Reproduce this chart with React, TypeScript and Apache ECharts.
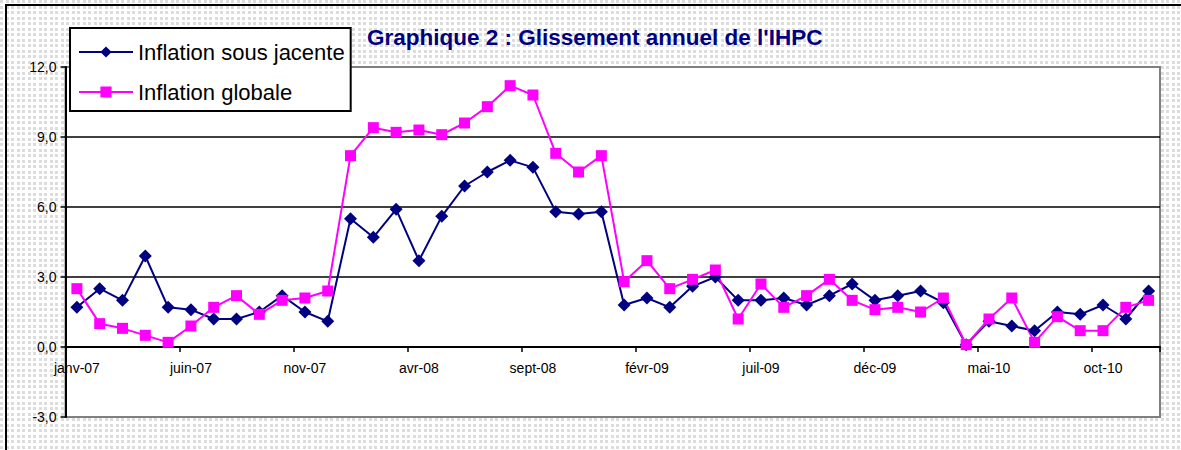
import React, { useEffect, useRef } from "react";
import * as echarts from "echarts";

const categories = [
  "janv-07", "févr-07", "mars-07", "avr-07", "mai-07", "juin-07", "juil-07", "août-07", "sept-07", "oct-07", "nov-07", "déc-07",
  "janv-08", "févr-08", "mars-08", "avr-08", "mai-08", "juin-08", "juil-08", "août-08", "sept-08", "oct-08", "nov-08", "déc-08",
  "janv-09", "févr-09", "mars-09", "avr-09", "mai-09", "juin-09", "juil-09", "août-09", "sept-09", "oct-09", "nov-09", "déc-09",
  "janv-10", "févr-10", "mars-10", "avr-10", "mai-10", "juin-10", "juil-10", "août-10", "sept-10", "oct-10", "nov-10", "déc-10",
];

const inflationSousJacente = [
  1.7, 2.5, 2.0, 3.9, 1.7, 1.6, 1.2, 1.2, 1.5, 2.2, 1.5, 1.1,
  5.5, 4.7, 5.9, 3.7, 5.6, 6.9, 7.5, 8.0, 7.7, 5.8, 5.7, 5.8,
  1.8, 2.1, 1.7, 2.6, 3.0, 2.0, 2.0, 2.1, 1.8, 2.2, 2.7, 2.0,
  2.2, 2.4, 1.9, 0.1, 1.1, 0.9, 0.7, 1.5, 1.4, 1.8, 1.2, 2.4,
];

const inflationGlobale = [
  2.5, 1.0, 0.8, 0.5, 0.2, 0.9, 1.7, 2.2, 1.4, 2.0, 2.1, 2.4,
  8.2, 9.4, 9.2, 9.3, 9.1, 9.6, 10.3, 11.2, 10.8, 8.3, 7.5, 8.2,
  2.8, 3.7, 2.5, 2.9, 3.3, 1.2, 2.7, 1.7, 2.2, 2.9, 2.0, 1.6,
  1.7, 1.5, 2.1, 0.1, 1.2, 2.1, 0.2, 1.3, 0.7, 0.7, 1.7, 2.0,
];

const seriesNames = ["Inflation sous jacente", "Inflation globale"];
const titleText = "Graphique 2 : Glissement annuel de l'IHPC";

const FONT = "'Liberation Sans', Arial, sans-serif";

const patternSvg =
  "url(\"data:image/svg+xml;utf8,<svg xmlns='http://www.w3.org/2000/svg' width='11' height='11'><rect x='0' y='0' width='3' height='3' fill='%23dcdcdc'/><rect x='6' y='0' width='3' height='3' fill='%23dcdcdc'/><rect x='0' y='6' width='3' height='3' fill='%23dcdcdc'/><rect x='6' y='6' width='3' height='3' fill='%23dcdcdc'/></svg>\")";

export default function App() {
  const ref = useRef<HTMLDivElement>(null);

  useEffect(() => {
    if (!ref.current) return;
    const chart = echarts.init(ref.current, undefined, { renderer: "svg" });
    chart.setOption({
      animation: false,
      backgroundColor: "transparent",
      textStyle: { fontFamily: FONT },
      title: {
        text: titleText,
        left: 367,
        top: 26,
        padding: 0,
        textStyle: {
          fontFamily: FONT,
          fontSize: 22.5,
          fontWeight: "bold",
          color: "#000080",
        },
      },
      legend: {
        orient: "vertical",
        left: 70,
        top: 28,
        padding: [11, 6, 6, 8],
        itemGap: 14,
        itemWidth: 54,
        itemHeight: 14,
        backgroundColor: "#ffffff",
        borderColor: "#000000",
        borderWidth: 2,
        borderRadius: 0,
        data: seriesNames,
        textStyle: {
          fontFamily: FONT,
          fontSize: 22,
          lineHeight: 26,
          color: "#000000",
        },
      },
      grid: {
        left: 65.5,
        right: 21,
        top: 67,
        bottom: 33,
        show: true,
        backgroundColor: "#ffffff",
        borderColor: "#808080",
        borderWidth: 2,
        containLabel: false,
      },
      xAxis: {
        type: "category",
        data: categories,
        boundaryGap: true,
        position: "bottom",
        offset: -70,
        axisLine: { onZero: false, lineStyle: { color: "#000000", width: 2 } },
        axisTick: {
          show: true,
          interval: 4,
          length: 5,
          lineStyle: { color: "#000000", width: 1.5 },
        },
        axisLabel: {
          interval: 4,
          margin: 14,
          fontSize: 14,
          color: "#000000",
          fontFamily: FONT,
        },
        splitLine: { show: false },
      },
      yAxis: {
        type: "value",
        min: -3,
        max: 12,
        interval: 3,
        axisLine: { show: true, lineStyle: { color: "#000000", width: 2 } },
        axisTick: { show: true, length: 5, lineStyle: { color: "#000000", width: 1.5 } },
        axisLabel: {
          margin: 9,
          fontSize: 14,
          color: "#000000",
          fontFamily: FONT,
          formatter: (v: number) => Number(v).toFixed(1).replace(".", ","),
        },
        splitLine: {
          show: true,
          showMinLine: false,
          showMaxLine: false,
          lineStyle: { color: "#000000", width: 1.5 },
        },
      },
      series: [
        {
          name: seriesNames[0],
          type: "line",
          data: inflationSousJacente,
          symbol: "diamond",
          symbolSize: 13,
          lineStyle: { color: "#000080", width: 2 },
          itemStyle: { color: "#000080" },
        },
        {
          name: seriesNames[1],
          type: "line",
          data: inflationGlobale,
          symbol: "rect",
          symbolSize: 11,
          lineStyle: { color: "#FF00FF", width: 2 },
          itemStyle: { color: "#FF00FF" },
        },
      ],
    });
    return () => chart.dispose();
  }, []);

  return (
    <div
      style={{
        position: "fixed",
        left: 0,
        top: 0,
        width: 1181,
        height: 450,
        overflow: "hidden",
        backgroundColor: "#ffffff",
        backgroundImage: patternSvg,
        backgroundRepeat: "repeat",
      }}
    >
      <div
        style={{
          position: "absolute",
          left: 5,
          top: 4,
          width: 1300,
          height: 600,
          borderLeft: "2px solid #000",
          borderTop: "2px solid #000",
        }}
      />
      <div
        ref={ref}
        style={{ position: "absolute", left: 0, top: 0, width: 1181, height: 450 }}
      />
    </div>
  );
}
